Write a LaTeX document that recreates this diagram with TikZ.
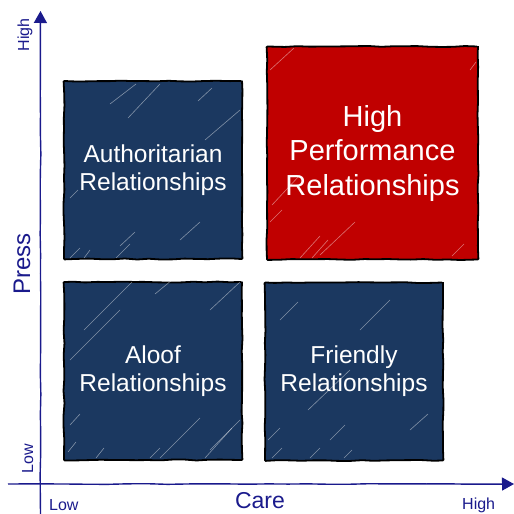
\documentclass[tikz,border=0pt]{standalone}
\usepackage{fontspec}
\setmainfont{Liberation Sans}
\usetikzlibrary{decorations.pathmorphing,arrows.meta}
\definecolor{boxblue}{HTML}{1B3860}
\definecolor{boxred}{HTML}{C00000}
\definecolor{axisblue}{HTML}{1A1A8C}
\begin{document}
\begin{tikzpicture}[x=1pt,y=-1pt,
  quad/.style={draw=black, line width=1.8pt, fill=boxblue, text=white, align=center,
    inner sep=0pt, minimum width=178pt, minimum height=178pt,
    font=\fontsize{24.5}{28}\selectfont,
    decoration={random steps,segment length=12pt,amplitude=0.5pt}, decorate, rounded corners=0.8pt},
  hiquad/.style={quad, fill=boxred, minimum width=211pt, minimum height=213pt, font=\fontsize{29}{34.5}\selectfont},
  axis/.style={draw=axisblue, line width=1.4pt, -{Triangle[length=12pt,width=13pt]},
    decoration={random steps,segment length=20pt,amplitude=0.4pt}, decorate, rounded corners=1pt},
  axlabel/.style={text=axisblue, inner sep=0pt, font=\fontsize{24}{24}\selectfont},
  ticklabel/.style={text=axisblue, inner sep=0pt, font=\fontsize{16}{16}\selectfont},
  streak/.style={draw=white, line width=0.6pt, opacity=0.45, line cap=round}]
\useasboundingbox (0,0) rectangle (514,514);
\pgfmathsetseed{7}
% quadrants
\node[quad] (auth) at (153,170) {Authoritarian\\Relationships};
\node[hiquad] (high) at (372.5,153) {High\\Performance\\Relationships};
\node[quad] (aloof) at (153,371) {Aloof\\Relationships};
\node[quad] (friend) at (354,371.5) {Friendly\\Relationships};
% streaks
\foreach \a/\b/\c/\d in {128/118/160/84, 110/104/136/84, 198/101/212/88, 205/140/240/110,
  70/198/78/190, 70/258/80/248, 84/258/90/250, 116/258/130/244, 120/246/135/232, 180/240/200/222}
  \draw[streak] (\a,\b) -- (\c,\d);
\foreach \a/\b/\c/\d in {270/70/294/48, 272/205/300/175, 270/222/282/210, 300/258/320/236,
  312/258/328/240, 320/255/355/222, 452/256/464/244, 470/70/476/62}
  \draw[streak] (\a,\b) -- (\c,\d);
\foreach \a/\b/\c/\d in {155/294/172/280, 84/330/132/282, 210/310/240/282, 70/360/120/310,
  70/425/80/414, 68/452/76/442, 96/458/104/448, 150/458/160/448, 160/458/200/418, 205/458/232/428, 210/450/240/420}
  \draw[streak] (\a,\b) -- (\c,\d);
\foreach \a/\b/\c/\d in {280/320/298/302, 308/410/350/370, 330/440/345/425, 268/440/280/428,
  272/458/282/448, 310/458/320/448, 344/458/352/450, 410/430/428/414, 360/330/390/300}
  \draw[streak] (\a,\b) -- (\c,\d);
% axes
\coordinate (yb) at (40.5,514);
\coordinate (yt) at (40.5,11);
\coordinate (xl) at (8,484);
\coordinate (xr) at (514,484);
\draw[axis] (yb) -- (yt);
\draw[axis] (xl) -- (xr);
% labels
\node[axlabel, rotate=90, anchor=base] (press) at (30,264) {Press};
\node[axlabel, anchor=base, font=\fontsize{23}{23}\selectfont] (care) at (260,508.5) {Care};
\node[ticklabel, rotate=90, anchor=base] (yhigh) at (29,35) {High};
\node[ticklabel, rotate=90, anchor=base] (ylow) at (33,459) {Low};
\node[ticklabel, anchor=base west] (xlow) at (49,510) {Low};
\node[ticklabel, anchor=base west] (xhigh) at (462,509) {High};
\end{tikzpicture}
\end{document}
